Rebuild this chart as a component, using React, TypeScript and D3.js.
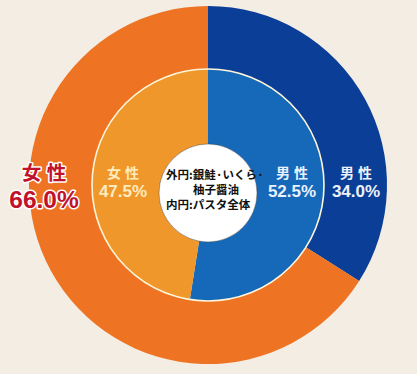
import React from 'react';
import * as d3 from 'd3';

// chart size matches the browser window
const width = 417;
const height = 374;

// outer ring: 銀鮭・いくら・柚子醤油, inner ring: パスタ全体
const genders = ['男 性', '女 性'];
const outerValues = [34.0, 66.0];
const innerValues = [52.5, 47.5];
const centerLines = ['外円:銀鮭·いくら·', '柚子醤油', '内円:パスタ全体'];

const cx = 208;
const cy = 185;
const outerR = 179;
const ringR = 116;
const holeR = 49;

const outerColors = ['#0B3F97', '#EE7322'];
const innerColors = ['#1668B8', '#F0972B'];

const font = "'Liberation Sans', 'Noto Sans CJK JP', sans-serif";
const cjk = "'Noto Sans CJK JP', sans-serif";

const pie = d3.pie<number>().sort(null).value(d => d);
const outerArc = d3.arc<d3.PieArcDatum<number>>().innerRadius(ringR).outerRadius(outerR);
const innerArc = d3.arc<d3.PieArcDatum<number>>().innerRadius(0).outerRadius(ringR);

const fmt = d3.format('.1f');

export default function App() {
  const outer = pie(outerValues);
  const inner = pie(innerValues);

  return (
    <svg width={width} height={height} style={{ position: 'absolute', left: 0, top: 0, display: 'block' }}>
      <rect width={width} height={height} fill="#F3EDE3" />
      <g transform={`translate(${cx},${cy})`}>
        {outer.map((d, i) => (
          <path key={'o' + i} d={outerArc(d) || ''} fill={outerColors[i]} />
        ))}
        {inner.map((d, i) => (
          <path key={'i' + i} d={innerArc(d) || ''} fill={innerColors[i]} />
        ))}
        <circle r={ringR} fill="none" stroke="#FFF6DA" strokeWidth={1.6} />
        <circle cx={0} cy={8} r={holeR} fill="#fff" stroke="#3a3a3a" strokeOpacity={0.55} strokeWidth={0.8} />

        {/* center caption */}
        <g fontFamily={cjk} fontWeight={700} fontSize={11.5} fill="#111">
          <text x={-42} y={-6}>{centerLines[0]}</text>
          <text x={-15} y={9}>{centerLines[1]}</text>
          <text x={-42} y={24}>{centerLines[2]}</text>
        </g>

        {/* inner ring labels */}
        <g fontFamily={font} fontWeight={700} textAnchor="middle">
          <text x={84} y={-7} fontSize={14} fill="#EAF2FF">{genders[0]}</text>
          <text x={84} y={12} fontSize={17} fill="#EAF2FF">{fmt(innerValues[0])}%</text>
          <text x={-85} y={-7} fontSize={14} fill="#FCEBBE">{genders[1]}</text>
          <text x={-85} y={12} fontSize={17} fill="#FCEBBE">{fmt(innerValues[1])}%</text>
        </g>

        {/* outer ring labels */}
        <g fontFamily={font} fontWeight={700} textAnchor="middle">
          <text x={148} y={-7} fontSize={14} fill="#EEF1FA">{genders[0]}</text>
          <text x={148} y={12} fontSize={17} fill="#EEF1FA">{fmt(outerValues[0])}%</text>
          <g fill="#C0122C" stroke="#fff" strokeWidth={3} strokeLinejoin="round" style={{ paintOrder: 'stroke' }}>
            <text x={-164} y={-5} fontSize={19.5}>{genders[1]}</text>
            <text x={-164} y={23} fontSize={24.5}>{fmt(outerValues[1])}%</text>
          </g>
        </g>
      </g>
    </svg>
  );
}
